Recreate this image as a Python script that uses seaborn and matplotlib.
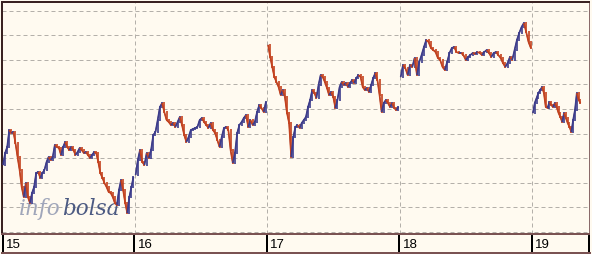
import numpy as np
import pandas as pd
import matplotlib
matplotlib.use("Agg")
import matplotlib.pyplot as plt
import seaborn as sns
from matplotlib.collections import LineCollection

# ---------------- data ----------------
days = [15, 16, 17, 18, 19]
day_labels = ["15", "16", "17", "18", "19"]

# price levels read as screen rows (smaller = higher price); converted below to grid units
prices_15 = [165, 153, 147, 130, 133, 132, 143, 157, 170, 187, 197, 183, 197, 203, 193, 187,
             173, 172, 178, 173, 170, 162, 157, 160, 157, 145, 147, 148, 155, 147, 142, 147,
             150, 147, 150, 155, 152, 148, 150, 153, 152, 155, 158, 155, 152, 153, 162, 173,
             178, 183, 187, 192, 193, 197, 203, 205, 190, 180, 190, 203, 213, 197, 187, 177]
prices_16 = [175, 160, 150, 162, 165, 153, 158, 150, 135, 132, 120, 107, 103, 112, 120, 122,
             125, 123, 127, 122, 117, 125, 135, 142, 137, 130, 129, 128, 127, 120, 118, 122,
             125, 128, 123, 130, 133, 140, 147, 137, 128, 127, 130, 150, 163, 153, 133, 125,
             122, 118, 115, 127, 120, 125, 122, 112, 105, 108, 112, 102]
prices_17 = [45, 57, 67, 77, 82, 87, 95, 90, 97, 113, 123, 157, 137, 127, 125, 128, 123, 120,
             117, 107, 100, 90, 93, 98, 85, 75, 77, 82, 88, 95, 92, 97, 108, 100, 87, 82, 85,
             83, 87, 83, 80, 83, 78, 75, 77, 87, 90, 88, 92, 85, 78, 73, 80, 95, 112, 103, 100,
             103, 107, 103, 108, 110, 107]
prices_18 = [77, 65, 68, 75, 65, 67, 58, 75, 62, 55, 47, 40, 42, 48, 50, 52, 58, 60, 67, 70,
             62, 53, 48, 47, 52, 53, 53, 55, 60, 57, 55, 53, 54, 52, 53, 55, 52, 50, 53, 57,
             53, 52, 55, 58, 63, 67, 63, 57, 60, 50, 40, 33, 27, 23, 32, 42, 48]
prices_19 = [113, 103, 98, 93, 90, 87, 93, 107, 108, 102, 105, 107, 103, 107, 113, 117, 122,
             113, 118, 123, 127, 132, 120, 110, 93, 100, 103]
raw_rows = [prices_15, prices_16, prices_17, prices_18, prices_19]

session_open, session_close = 9.0, 17.5       # hours
last_day_close = 12 + 10 / 60                 # last session still open at 12:10

grid_levels = list(range(0, 10))

# ---------------- build table ----------------
rows = []
for d, vals in zip(days, raw_rows):
    frac = 1.0 if d != days[-1] else (last_day_close - session_open) / (session_close - session_open)
    n = len(vals)
    for i, r in enumerate(vals):
        rows.append({"day": d, "x": d + (i + 0.5) / n * frac, "price": (232 - r) / 24.59})
df = pd.DataFrame(rows)

# ---------------- figure ----------------
W, H, DPI = 592, 254, 100
bg = "#FFFAF0"
sns.set_theme(style="white")
plt.rcParams["font.family"] = ["Liberation Sans", "DejaVu Sans"]
fig = plt.figure(figsize=(W / DPI, H / DPI), dpi=DPI, facecolor=bg)

ax = fig.add_axes([2 / W, (H - 234) / H, 587 / W, 232 / H])
ax.set_facecolor(bg)
px = 1 / DPI * 72  # one pixel in points

xmin = days[0]
xmax = days[0] + 587 / 132.5
ax.set_xlim(xmin, xmax)
ax.set_ylim(0 - 2 / 24.59, 9 + 8.7 / 24.59)

for g in grid_levels:
    ax.axhline(g, color="#b4b0aa", lw=px, dashes=(4, 3), zorder=0)
for d in days[1:]:
    ax.axvline(d, color="#b4b0aa", lw=px, dashes=(4, 3), zorder=0)

# watermark (behind the data)
ax.text(19 / W, 1 - 215 / H, "info", family="DejaVu Serif", style="italic",
        fontsize=15.5, color="#a0a6ba", va="baseline", ha="left",
        transform=fig.transFigure, zorder=1)
ax.text(62 / W, 1 - 215 / H, "bolsa", family="DejaVu Serif", style="italic",
        fontsize=15.5, color="#4c5a82", va="baseline", ha="left",
        transform=fig.transFigure, zorder=1)

sns.lineplot(data=df, x="x", y="price", units="day", estimator=None,
             color="#6a3a55", lw=0.7, ax=ax, legend=False, zorder=2)

up_c, dn_c = "#3c3c8c", "#c4421e"
segs, cols = [], []
for d, g in df.groupby("day"):
    xs, ys = g["x"].to_numpy(), g["price"].to_numpy()
    for i in range(1, len(xs)):
        c = up_c if ys[i] >= ys[i - 1] else dn_c
        segs.append([(xs[i - 1], ys[i - 1]), (xs[i], ys[i])])
        cols.append(c)
        segs.append([(xs[i], min(ys[i - 1], ys[i]) - 0.06), (xs[i], max(ys[i - 1], ys[i]) + 0.06)])
        cols.append(c)
ax.add_collection(LineCollection(segs, colors=cols, linewidths=1.2, zorder=3))

ax.set_xticks([])
ax.set_yticks([])
ax.set_xlabel("")
ax.set_ylabel("")
for s in ["left", "top"]:
    ax.spines[s].set_color("#3a2222")
    ax.spines[s].set_linewidth(2 * px)
ax.spines["bottom"].set_color("#7a5252")
ax.spines["bottom"].set_linewidth(2 * px)
ax.spines["right"].set_color("#8a6a6a")
ax.spines["right"].set_linewidth(1 * px)

# date strip
sx = fig.add_axes([2 / W, 1 / H, 588 / W, 18 / H])
sx.set_facecolor(bg)
sx.set_xlim(xmin, xmin + 588 / 132.5)
sx.set_ylim(0, 1)
sx.set_xticks([])
sx.set_yticks([])
for s in ["left", "top", "right"]:
    sx.spines[s].set_visible(False)
sx.spines["bottom"].set_color("#7a5252")
sx.spines["bottom"].set_linewidth(2 * px)
for d, lab in zip(days, day_labels):
    xd = d if d != days[0] else d + 1.2 / 132.5
    sx.axvline(xd, color="black", lw=2 * px)
    sx.text(xd + 3 / 132.5, 0.45, lab, fontsize=9.5, color="black", va="center", ha="left")
sx.axvline(xmin + 587.5 / 132.5, color="black", lw=3 * px)

fig.savefig("out.png", dpi=DPI, facecolor=bg)
